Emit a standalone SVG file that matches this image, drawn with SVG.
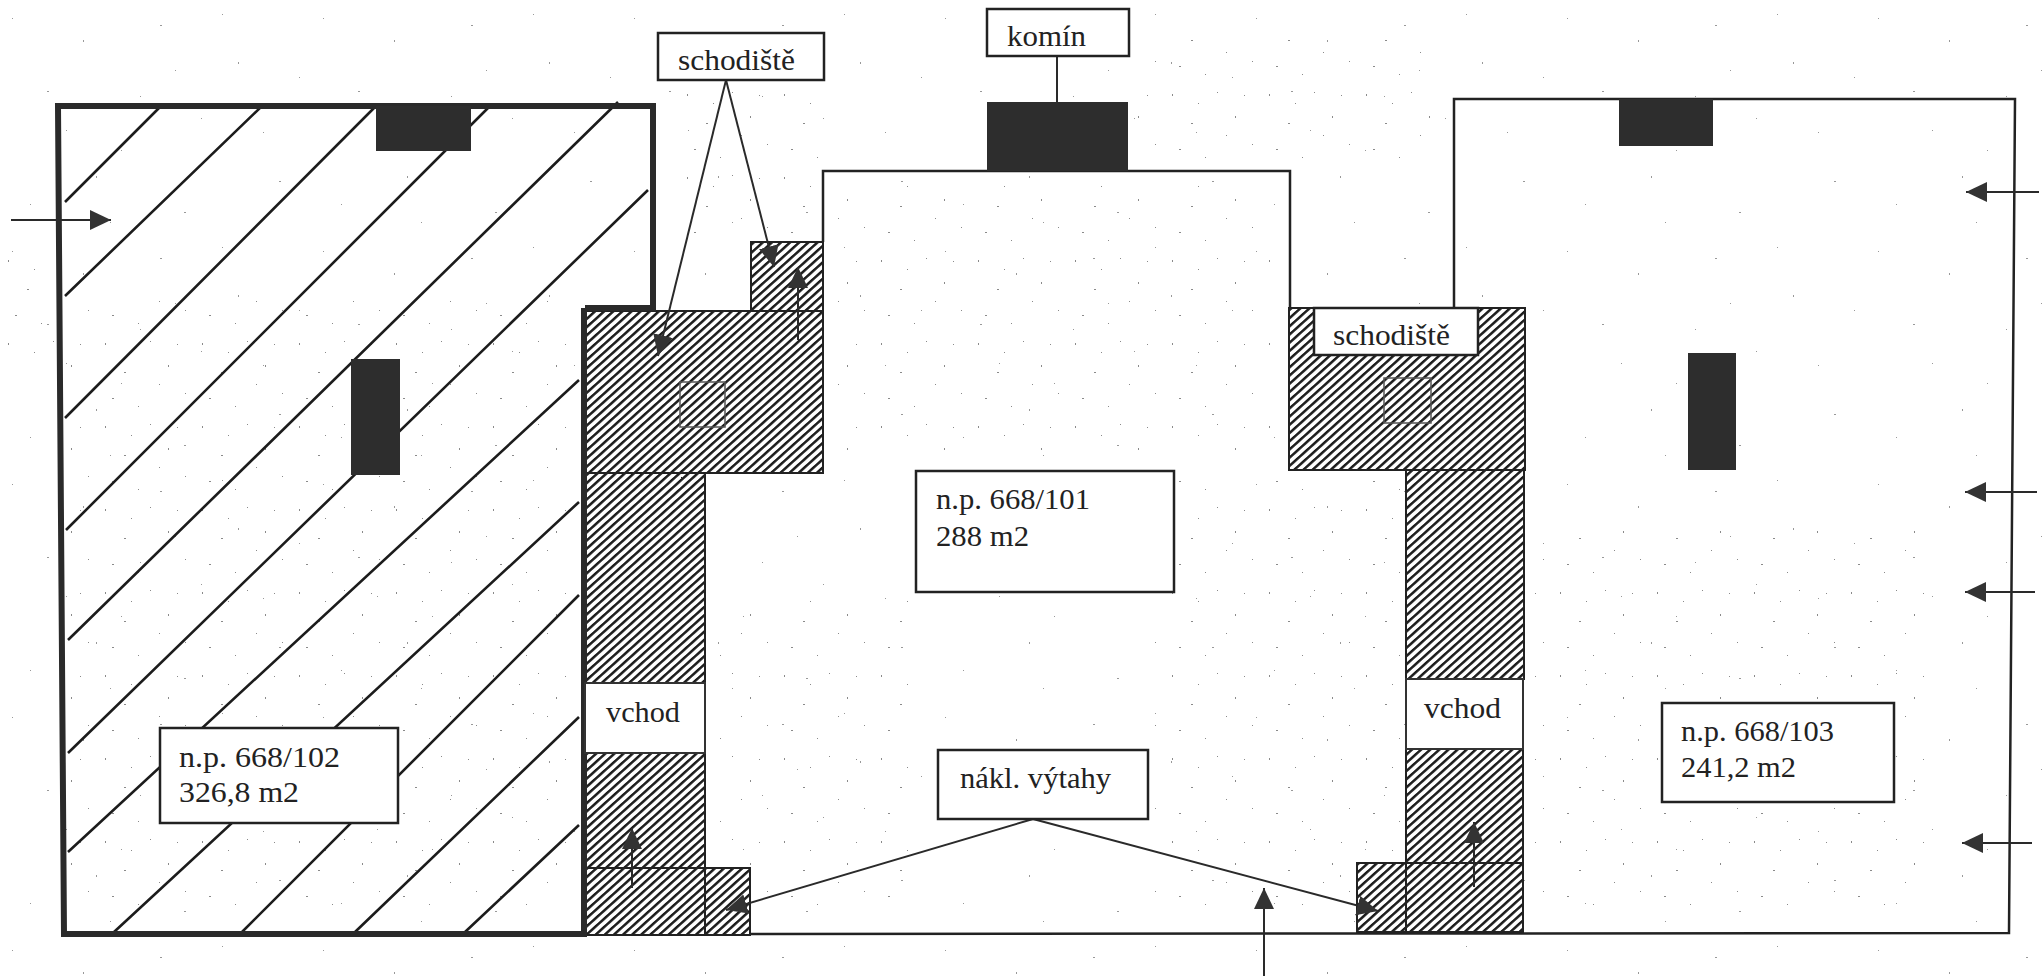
<svg xmlns="http://www.w3.org/2000/svg" width="2042" height="976" viewBox="0 0 2042 976">
<style>
text{font-family:"Liberation Serif","Times New Roman",serif;font-size:29px;fill:#222}
.box{fill:#fff;stroke:#222;stroke-width:2.5}
.solid{fill:#2d2d2d}
.hatch{fill:url(#dense);stroke:#222;stroke-width:2}
.wall{fill:none;stroke:#222;stroke-width:2.5}
.thick{fill:none;stroke:#2a2a2a;stroke-width:6;stroke-linejoin:miter}
.diag{fill:none;stroke:#1c1c1c;stroke-width:2.6}
.lead{fill:none;stroke:#2a2a2a;stroke-width:2}
.door{fill:#fff;stroke:#333;stroke-width:2}
.thin{fill:none;stroke:#555;stroke-width:1.5}
</style>
<defs>
<pattern id="dense" width="6.1" height="6.1" patternUnits="userSpaceOnUse" patternTransform="rotate(48)">
<rect width="6.1" height="6.1" fill="#fff"/><rect width="2.5" height="6.1" fill="#1c1c1c"/>
</pattern>
<pattern id="specks" width="311" height="233" patternUnits="userSpaceOnUse">
<path d="M12 18h1v1h-1zM47 91h2v1h-2zM83 40h1v2h-1zM121 150h1v1h-1zM160 25h2v1h-2zM201 118h1v1h-1zM238 62h1v2h-1zM279 181h2v1h-2zM30 204h1v1h-1zM96 176h1v2h-1zM140 96h1v1h-1zM184 212h2v1h-2zM222 14h1v1h-1zM263 132h1v1h-1zM66 130h1v1h-1zM299 77h1v1h-1zM110 222h1v1h-1zM175 70h1v1h-1z" fill="#999"/>
</pattern>
<pattern id="cluster" width="97" height="83" patternUnits="userSpaceOnUse">
<path d="M8 11h1v2h-1zM27 40h2v1h-2zM53 9h1v1h-1zM71 33h1v2h-1zM88 61h1v1h-1zM15 66h2v1h-2zM41 74h1v1h-1zM62 52h1v1h-1zM34 20h1v1h-1zM80 12h1v1h-1z" fill="#8a8a8a"/>
</pattern>
<marker id="head" markerUnits="userSpaceOnUse" markerWidth="23" markerHeight="21" refX="21" refY="10" orient="auto">
<path d="M0 0L21 10L0 20z" fill="#333"/>
</marker>
</defs>
<rect id="paper" width="2042" height="976" fill="#fff"/>
<rect id="scan-specks" width="2042" height="976" fill="url(#specks)"/>
<g id="scan-clusters" fill="url(#cluster)">
<rect x="680" y="85" width="140" height="150"/>
<rect x="1130" y="40" width="300" height="120"/>
<rect x="830" y="180" width="440" height="270"/>
<rect x="720" y="600" width="190" height="320"/>
<rect x="1150" y="480" width="250" height="440"/>
<rect x="1530" y="520" width="400" height="400"/>
<rect x="70" y="300" width="500" height="620"/>
<rect x="0" y="260" width="60" height="110"/>
</g>

<g id="unit-102-hatching" class="diag">
<path d="M65 202L161 106M65 296L262 106M65 418L376 106M66 530L490 106M68 640L618 102M68 753L648 190M68 852L579 380M114 932L579 502M242 932L579 595M355 932L579 717M465 932L579 825"/>
</g>

<g id="stairs-left">
<path class="hatch" d="M751 242H823V311H751z"/>
<path class="hatch" d="M584 311H823V473H584z"/>
<rect class="thin" x="680" y="382" width="45" height="45"/>
</g>
<g id="corridor-left">
<path class="hatch" d="M584 473H705V683H584z"/>
<path class="hatch" d="M584 753H705V868H584z"/>
<path class="hatch" d="M584 868H705V935H584z"/>
<path class="hatch" d="M705 868H750V935H705z"/>
</g>
<g id="stairs-right">
<path class="hatch" d="M1289 308H1525V470H1289z"/>
<rect class="thin" x="1384" y="378" width="47" height="45"/>
<rect class="box" x="1314" y="308" width="164" height="47"/>
<text x="1333" y="345" textLength="117" lengthAdjust="spacingAndGlyphs">schodiště</text>
</g>
<g id="corridor-right">
<path class="hatch" d="M1406 470H1524V679H1406z"/>
<path class="hatch" d="M1406 749H1523V863H1406z"/>
<path class="hatch" d="M1406 863H1523V932H1406z"/>
<path class="hatch" d="M1357 863H1406V932H1357z"/>
</g>

<g id="walls">
<path class="wall" d="M823 242V171H1290V308M1454 308V99H2015L2009 933L750 934"/>
<path class="thick" d="M585 308H653V106H58L64 934H584L584 308"/>
</g>

<g id="chimney-a"><rect class="solid" x="376" y="106" width="95" height="45"/></g>
<g id="pillar-a"><rect class="solid" x="351" y="359" width="49" height="116"/></g>
<g id="chimney-b"><rect class="solid" x="987" y="102" width="141" height="69"/></g>
<g id="chimney-c"><rect class="solid" x="1619" y="99" width="94" height="47"/></g>
<g id="pillar-c"><rect class="solid" x="1688" y="353" width="48" height="117"/></g>

<g id="connectors">
<path class="lead" d="M1057 56V102"/>
<path class="lead" marker-end="url(#head)" d="M726 80L658 356"/>
<path class="lead" marker-end="url(#head)" d="M726 80L774 267"/>
<path class="lead" marker-end="url(#head)" d="M1033 819L726 910"/>
<path class="lead" marker-end="url(#head)" d="M1033 819L1378 911"/>
<path class="lead" marker-end="url(#head)" d="M11 220H111"/>
<path class="lead" marker-end="url(#head)" d="M798 340V267"/>
<path class="lead" marker-end="url(#head)" d="M632 888V828"/>
<path class="lead" marker-end="url(#head)" d="M1474 887V822"/>
<path class="lead" marker-end="url(#head)" d="M1264 976V888"/>
<path class="lead" marker-end="url(#head)" d="M2039 192H1966"/>
<path class="lead" marker-end="url(#head)" d="M2037 492H1965"/>
<path class="lead" marker-end="url(#head)" d="M2035 592H1965"/>
<path class="lead" marker-end="url(#head)" d="M2032 843H1962"/>
</g>

<g id="label-schodiste"><rect class="box" x="658" y="33" width="166" height="47"/><text x="678" y="70" textLength="117" lengthAdjust="spacingAndGlyphs">schodiště</text></g>
<g id="label-komin"><rect class="box" x="987" y="9" width="142" height="47"/><text x="1007" y="46" textLength="79" lengthAdjust="spacingAndGlyphs">komín</text></g>
<g id="label-vchod-left"><rect class="door" x="585" y="683" width="120" height="70"/><text x="606" y="722" textLength="74" lengthAdjust="spacingAndGlyphs">vchod</text></g>
<g id="label-vchod-right"><rect class="door" x="1406" y="679" width="117" height="70"/><text x="1424" y="718" textLength="77" lengthAdjust="spacingAndGlyphs">vchod</text></g>
<g id="label-102"><rect class="box" x="160" y="728" width="238" height="95"/><text x="179" y="767" textLength="161" lengthAdjust="spacingAndGlyphs">n.p. 668/102</text><text x="179" y="802" textLength="120" lengthAdjust="spacingAndGlyphs">326,8 m2</text></g>
<g id="label-101"><rect class="box" x="916" y="471" width="258" height="121"/><text x="936" y="509" textLength="154" lengthAdjust="spacingAndGlyphs">n.p. 668/101</text><text x="936" y="546" textLength="93" lengthAdjust="spacingAndGlyphs">288 m2</text></g>
<g id="label-103"><rect class="box" x="1662" y="703" width="232" height="99"/><text x="1681" y="741" textLength="153" lengthAdjust="spacingAndGlyphs">n.p. 668/103</text><text x="1681" y="777" textLength="115" lengthAdjust="spacingAndGlyphs">241,2 m2</text></g>
<g id="label-vytahy"><rect class="box" x="938" y="750" width="210" height="69"/><text x="960" y="788" textLength="151" lengthAdjust="spacingAndGlyphs">nákl. výtahy</text></g>
</svg>
